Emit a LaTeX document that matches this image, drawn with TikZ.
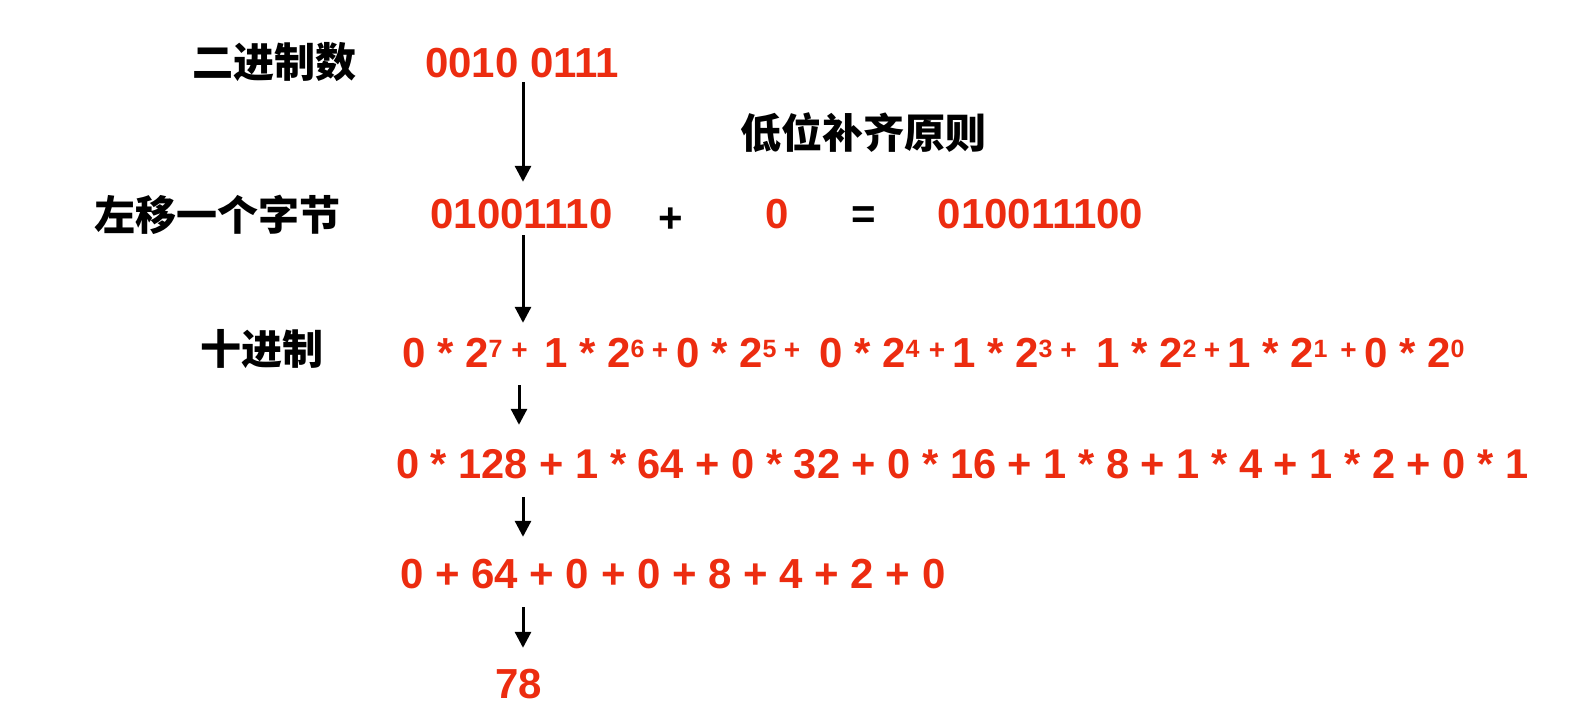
\documentclass[tikz,border=0pt]{standalone}
\usepackage{fontspec}
\setmainfont{Liberation Sans}
\newfontfamily\cjk{Noto Sans CJK SC}
\usepackage{xcolor}
\definecolor{binred}{RGB}{236,44,16}
\usetikzlibrary{arrows.meta}
\newcommand{\sq}[1]{\raisebox{10pt}{\fontsize{25}{25}\selectfont #1}}

\begin{document}
\begin{tikzpicture}[x=1pt,y=-1pt,
    lbl/.style={inner sep=0pt, font=\cjk\bfseries\fontsize{41}{41}\selectfont},
    num/.style={inner sep=0pt, text=binred, text height=30pt, text depth=0pt, font=\bfseries\fontsize{42}{42}\selectfont},
    op/.style={inner sep=0pt, font=\bfseries\fontsize{42}{42}\selectfont},
    sp/.style={inner sep=0pt, text=binred, font=\bfseries\fontsize{28}{28}\selectfont},
    arr/.style={line width=3pt, -{Triangle[width=16pt,length=16pt]}}]
    \useasboundingbox (0,0) rectangle (1572,728);
    \coordinate (ax) at (523,0);
    \coordinate (ax3) at (519,0);

    \node[lbl] (l0) at (274,62.5) {二进制数};
    \node[lbl] (l1) at (217.5,214.5) {左移一个字节};
    \node[lbl] (l2) at (262,349.5) {十进制};
    \node[lbl] (rule) at (863.5,132.5) {低位补齐原则};

    \node[num, anchor=base] (n0) at (522,77) {0010 0111};
    \node[num, anchor=base] (n1) at (521.5,228) {01001110};
    \node[op] (plus) at (671,220) {+};
    \node[num, anchor=base] (pad) at (777,228) {0};
    \node[op] (eq) at (864,218) {=};
    \node[num, anchor=base] (sum) at (1040.5,228) {010011100};

    \foreach \b/\e/\x in {0/7/402, 1/6/544, 0/5/676, 0/4/819, 1/3/952, 1/2/1096, 1/1/1227, 0/0/1364}
        \node[num, anchor=base west] (t\e) at (\x,367) {\b{} * 2\sq{\e}};
    \foreach \x [count=\i] in {519.5, 660, 792, 937, 1068.5, 1212, 1348.5}
        \node[sp] (p\i) at (\x,351) {+};

    \node[num, anchor=base west, font=\bfseries\fontsize{41.6}{42}\selectfont] (r4) at (396,478) {0 * 128 + 1 * 64 + 0 * 32 + 0 * 16 + 1 * 8 + 1 * 4 + 1 * 2 + 0 * 1};
    \node[num, anchor=base west] (r5) at (400,588) {0 + 64 + 0 + 0 + 8 + 4 + 2 + 0};
    \node[num, anchor=base] (r6) at (519,698) {78};

    \draw[arr, shorten <=5pt, shorten >=16pt] (n0.south -| ax) -- (n1.north -| ax);
    \draw[arr, shorten <=7pt, shorten >=14pt] (n1.south -| ax) -- (t7.north -| ax);
    \draw[arr, shorten <=18pt, shorten >=23pt] (t7.south -| ax3) -- (r4.north -| ax3);
    \draw[arr, shorten <=19pt, shorten >=21pt] (r4.south -| ax) -- (r5.north -| ax);
    \draw[arr, shorten <=19pt, shorten >=20pt] (r5.south -| ax) -- (r6.north -| ax);
\end{tikzpicture}
\end{document}
